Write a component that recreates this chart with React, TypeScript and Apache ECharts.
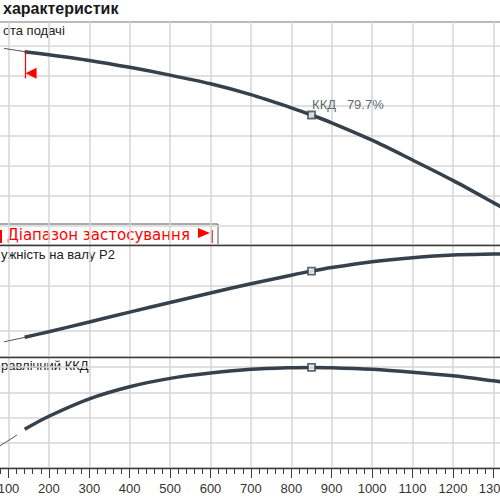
import React, { useEffect, useRef } from "react";
import * as echarts from "echarts";

// Flow axis (m³/h)
const flowTicksMin = 0;
const flowTicksMax = 1400;
const flowTickStep = 100;

// Head curve (m)
const headThinFlow = [89, 141];
const headThinValues = [39.6, 39.05];
const headFlow = [140, 200, 300, 400, 500, 600, 700, 800, 850, 900, 1000, 1100, 1200, 1300, 1350];
const headValues = [39.05, 38.55, 37.6, 36.45, 35.15, 33.7, 31.9, 29.7, 28.5, 27.2, 24.3, 21.0, 17.6, 13.9, 12.0];

// Shaft power P2 (kW)
const powerThinFlow = [89, 141];
const powerThinValues = [55.2, 57.2];
const powerFlow = [140, 200, 300, 400, 500, 600, 700, 800, 850, 900, 1000, 1100, 1200, 1300, 1350];
const powerValues = [57.2, 59.7, 64.0, 68.4, 72.7, 76.9, 81.0, 84.8, 86.6, 88.2, 90.8, 92.6, 93.8, 94.2, 94.3];

// Hydraulic efficiency (%)
const effThinFlow = [78, 121];
const effThinValues = [17.4, 26.1];
const effFlow = [140, 200, 300, 400, 500, 600, 700, 800, 850, 900, 1000, 1100, 1200, 1300, 1350];
const effValues = [30.7, 41.0, 54.8, 64.4, 71.0, 75.2, 78.2, 79.5, 79.7, 79.5, 78.2, 75.9, 73.0, 69.1, 67.0];

// Best efficiency point
const bepFlow = 850;
const bepHead = 28.5;
const bepPower = 86.6;
const bepEff = 79.7;

// Application range start marker
const rangeStartFlow = 141;
const rangeMarkTop = 39.05;
const rangeMarkBottom = 34.6;
const rangeArrowHead = 35.45;

// Texts
const titleText = "характеристик";
const headLabel = "ота подачі";
const powerLabel = "ужність на валу P2";
const effLabel = "равлічний ККД";
const rangeLabel = "Діапазон застосування";

const zip = (xs: number[], ys: number[]) => xs.map((x, i) => [x, ys[i]]);

const CURVE = "#36414b";
const GRIDC = "#d6d6d6";
const DARK = "#3a3a3a";
const FONT = '"Liberation Sans", Arial, sans-serif';

// the chart canvas is wider than the window and shifted left, so the plot is cropped like the reference
const OFF = 40;
const CW = 580;

export default function App() {
  const ref = useRef<HTMLDivElement>(null);
  useEffect(() => {
    if (!ref.current) return;
    const chart = echarts.init(ref.current, null, { renderer: "svg" });

    const gridBase = { left: OFF - 31.9, width: 565.6 };
    const xBase = (i: number, showLabels: boolean) => ({
      type: "value",
      gridIndex: i,
      min: flowTicksMin,
      max: flowTicksMax,
      interval: flowTickStep,
      axisLine: { show: true, onZero: false, lineStyle: { color: DARK, width: 1.4 } },
      axisTick: showLabels
        ? { show: true, length: 10, lineStyle: { color: DARK, width: 1 } }
        : { show: false },
      minorTick: showLabels
        ? { show: true, splitNumber: 5, length: 6, lineStyle: { color: DARK, width: 1 } }
        : { show: false },
      axisLabel: showLabels
        ? {
            show: true,
            fontSize: 13,
            fontFamily: FONT,
            color: "#333",
            margin: 14,
            showMinLabel: false,
            showMaxLabel: false,
            formatter: (v: number) => String(v),
          }
        : { show: false },
      splitLine: { show: true, lineStyle: { color: GRIDC, width: 1.5 } },
    });
    const yBase = (i: number, min: number, max: number, step: number, splitNumber: number) => ({
      type: "value",
      gridIndex: i,
      min,
      max,
      splitNumber,
      minInterval: step,
      maxInterval: step,
      axisLine: { show: false },
      axisTick: { show: false },
      axisLabel: { show: false },
      splitLine: { show: true, lineStyle: { color: GRIDC, width: 1.5 } },
    });

    const thick = (idx: number, data: number[][]) => ({
      type: "line",
      xAxisIndex: idx,
      yAxisIndex: idx,
      data,
      smooth: 0.3,
      symbol: "none",
      silent: true,
      lineStyle: { color: CURVE, width: 3.5 },
    });
    const thin = (idx: number, data: number[][]) => ({
      type: "line",
      xAxisIndex: idx,
      yAxisIndex: idx,
      data,
      symbol: "none",
      silent: true,
      lineStyle: { color: "#555", width: 1 },
    });
    const bep = (idx: number, y: number, label?: string) => ({
      type: "scatter",
      xAxisIndex: idx,
      yAxisIndex: idx,
      data: [[bepFlow, y]],
      symbol: "rect",
      symbolSize: 7,
      silent: true,
      z: 5,
      itemStyle: { color: "#fff", borderColor: CURVE, borderWidth: 1.8 },
      label: label
        ? {
            show: true,
            formatter: label,
            position: [5, -6.5],
            align: "left",
            verticalAlign: "middle",
            fontSize: 13,
            fontFamily: FONT,
            color: "#34404a",
          }
        : { show: false },
    });

    const headThinSeries: any = thin(0, zip(headThinFlow, headThinValues));
    headThinSeries.markLine = {
      silent: true,
      symbol: ["none", "none"],
      label: { show: false },
      lineStyle: { color: "#ff0000", width: 1.2, type: "solid" },
      data: [[{ coord: [rangeStartFlow, rangeMarkTop] }, { coord: [rangeStartFlow, rangeMarkBottom] }]],
    };
    headThinSeries.markPoint = {
      silent: true,
      label: { show: false },
      itemStyle: { color: "#ff0000" },
      data: [
        {
          coord: [rangeStartFlow, rangeArrowHead],
          symbol: "path://M0,5L10,0L10,10Z",
          symbolSize: [11, 11],
          symbolOffset: [6, 0],
        },
      ],
    };

    const option: any = {
      animation: false,
      backgroundColor: "#fff",
      grid: [
        { ...gridBase, top: 22, height: 223 },
        { ...gridBase, top: 245, height: 112 },
        { ...gridBase, top: 357, height: 111 },
      ],
      xAxis: [xBase(0, false), xBase(1, false), xBase(2, true)],
      yAxis: [
        yBase(0, 10 - 19 / 6, 10 + 204 / 6, 5, 7),
        yBase(1, 60 - 26 / 2.25, 80 + 41 / 2.25, 20, 3),
        yBase(2, 0, 111 / 1.2625, 20, 4),
      ],
      series: [
        headThinSeries,
        thick(0, zip(headFlow, headValues)),
        thin(1, zip(powerThinFlow, powerThinValues)),
        thick(1, zip(powerFlow, powerValues)),
        thin(2, zip(effThinFlow, effThinValues)),
        thick(2, zip(effFlow, effValues)),
        bep(0, bepHead, `ККД   ${bepEff}%`),
        bep(1, bepPower),
        bep(2, bepEff),
      ],
      graphic: [
        {
          type: "text",
          x: OFF + 3,
          y: 8,
          style: {
            text: titleText,
            fontSize: 16,
            fontWeight: "bold",
            fontFamily: FONT,
            fill: "#1a1a1a",
            textVerticalAlign: "middle",
          },
        },
        {
          type: "line",
          shape: { x1: 0, y1: 22, x2: CW, y2: 22 },
          style: { stroke: DARK, lineWidth: 1.5 },
        },
        {
          type: "text",
          x: OFF + 3,
          y: 30,
          style: { text: headLabel, fontSize: 13, fontFamily: FONT, fill: "#222", textVerticalAlign: "middle" },
        },
        {
          type: "text",
          x: OFF + 1,
          y: 254.5,
          style: { text: powerLabel, fontSize: 13, fontFamily: FONT, fill: "#222", textVerticalAlign: "middle" },
        },
        {
          type: "text",
          x: OFF + 1,
          y: 365.5,
          style: { text: effLabel, fontSize: 13, fontFamily: FONT, fill: "#222", textVerticalAlign: "middle" },
        },
        {
          type: "rect",
          shape: { x: OFF - 5, y: 224, width: 223, height: 21 },
          style: { fill: "#fff", stroke: "#555", lineWidth: 1 },
        },
        {
          type: "text",
          x: OFF + 7,
          y: 235,
          style: {
            text: rangeLabel,
            fontSize: 15,
            fontFamily: '"DejaVu Sans", sans-serif',
            fill: "#ff0000",
            textVerticalAlign: "middle",
          },
        },
        {
          type: "polygon",
          shape: { points: [[OFF + 198, 228], [OFF + 210, 233], [OFF + 198, 238]] },
          style: { fill: "#ff0000" },
        },
        {
          type: "line",
          shape: { x1: OFF + 212, y1: 230, x2: OFF + 212, y2: 243 },
          style: { stroke: "#ff0000", lineWidth: 1.5 },
        },
        {
          type: "line",
          shape: { x1: OFF + 1, y1: 230, x2: OFF + 1, y2: 243 },
          style: { stroke: "#ff0000", lineWidth: 2 },
        },
      ],
    };
    chart.setOption(option);
    return () => chart.dispose();
  }, []);
  return (
    <div
      style={{
        position: "fixed",
        left: 0,
        top: 0,
        width: 500,
        height: 500,
        overflow: "hidden",
        background: "#fff",
      }}
    >
      <div
        ref={ref}
        style={{ position: "absolute", left: -OFF, top: 0, width: CW, height: 500 }}
      />
    </div>
  );
}
